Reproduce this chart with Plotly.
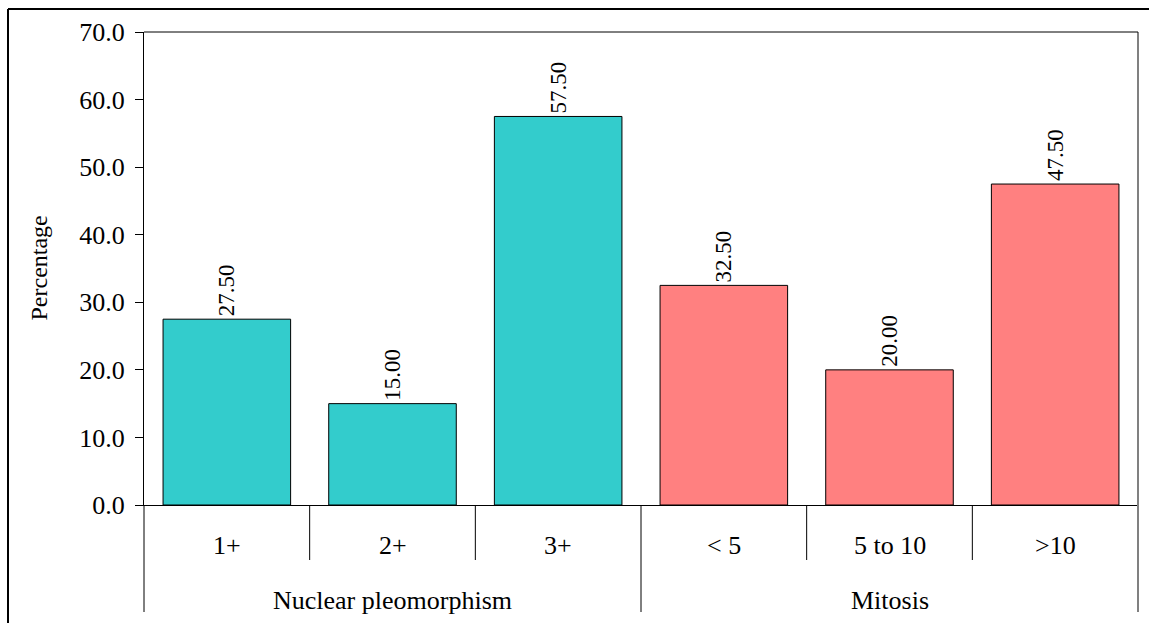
import plotly.graph_objects as go

# Data
categories = ["1+", "2+", "3+", "< 5", "5 to 10", ">10"]
groups = ["Nuclear pleomorphism", "Mitosis"]
group_sizes = [3, 3]
percentages = [27.50, 15.00, 57.50, 32.50, 20.00, 47.50]
group_colors = ["#33CCCC", "#FF8080"]

W, H = 1149, 623
ML, MR, MT, MB = 144, 11, 32, 118
SERIF = "Liberation Serif, Times New Roman, serif"

n = len(categories)
xs = list(range(n))
colors = []
for g, size in enumerate(group_sizes):
    colors += [group_colors[g]] * size

fig = go.Figure()
fig.add_trace(go.Bar(
    x=xs, y=percentages,
    width=0.77,
    marker=dict(color=colors, line=dict(color="black", width=1)),
    text=[f"{v:.2f}" for v in percentages],
    textposition="outside",
    textangle=-90,
    textfont=dict(family=SERIF, size=23, color="black"),
    cliponaxis=False,
    hoverinfo="skip",
))

plot_h = H - MT - MB
plot_w = W - ML - MR


def py(px):
    """Pixel offset below the plot bottom -> paper y."""
    return -px / plot_h


def px_x(px):
    """Absolute pixel x -> paper x."""
    return (px - ML) / plot_w


shapes = []
annotations = []

# Category labels and the short separators between them
for i, cat in enumerate(categories):
    annotations.append(dict(x=i, y=py(40), xref="x", yref="paper", text=cat,
                            showarrow=False, yanchor="middle",
                            font=dict(family=SERIF, size=26, color="black")))

boundaries = [0]
for s in group_sizes:
    boundaries.append(boundaries[-1] + s)

for k in range(1, n):
    long_line = k in boundaries
    shapes.append(dict(type="line", xref="paper", yref="paper",
                       x0=k / n, x1=k / n, y0=0, y1=py(107 if long_line else 55),
                       line=dict(color="black", width=1)))

# Group labels
for g, name in enumerate(groups):
    center = (boundaries[g] + boundaries[g + 1] - 1) / 2
    annotations.append(dict(x=center, y=py(95), xref="x", yref="paper", text=name,
                            showarrow=False, yanchor="middle",
                            font=dict(family=SERIF, size=26, color="black")))

# Left axis extension down through the category area
shapes.append(dict(type="line", xref="paper", yref="paper", x0=0, x1=0,
                   y0=0, y1=py(107), line=dict(color="black", width=1)))
# Right edge (grey) down through the category area
shapes.append(dict(type="line", xref="paper", yref="paper", x0=1, x1=1,
                   y0=1, y1=py(107), line=dict(color="#808080", width=2)))
# Top edge of the plot
shapes.append(dict(type="line", xref="paper", yref="paper", x0=0, x1=1,
                   y0=1, y1=1, line=dict(color="black", width=1)))

# Outer frame (left and top)
shapes.append(dict(type="line", xref="paper", yref="paper",
                   x0=px_x(8), x1=px_x(8), y0=1 + (MT - 9) / plot_h, y1=py(MB + 5),
                   line=dict(color="black", width=2)))
shapes.append(dict(type="line", xref="paper", yref="paper",
                   x0=px_x(8), x1=px_x(W + 5), y0=1 + (MT - 9) / plot_h, y1=1 + (MT - 9) / plot_h,
                   line=dict(color="black", width=2)))

# Y-axis title
annotations.append(dict(x=px_x(38), y=0.5, xref="paper", yref="paper", text="Percentage",
                        showarrow=False, textangle=-90, xanchor="center", yanchor="middle",
                        font=dict(family=SERIF, size=24, color="black")))

fig.update_layout(
    width=W, height=H,
    margin=dict(l=ML, r=MR, t=MT, b=MB),
    paper_bgcolor="white", plot_bgcolor="white",
    showlegend=False,
    shapes=shapes,
    annotations=annotations,
    xaxis=dict(range=[-0.5, n - 0.5], showticklabels=False, ticks="",
               showgrid=False, zeroline=False, showline=True,
               linecolor="black", linewidth=1, fixedrange=True),
    yaxis=dict(range=[0, 70], dtick=10, tick0=0, tickformat=".1f",
               ticks="outside", ticklen=8, tickcolor="black", tickwidth=1,
               showgrid=False, zeroline=False, showline=True,
               linecolor="black", linewidth=1,
               ticklabelstandoff=5,
               tickfont=dict(family=SERIF, size=26, color="black"),
               fixedrange=True),
)

fig.write_html("out.html")
